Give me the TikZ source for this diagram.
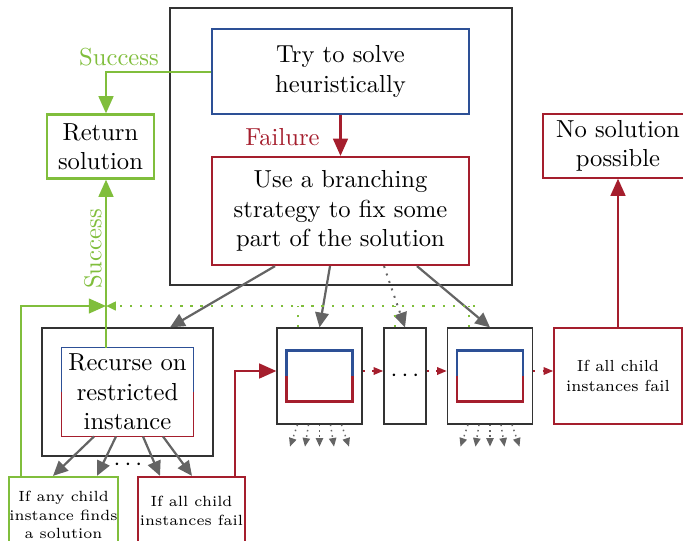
\documentclass[tikz,border=0pt]{standalone}
\usetikzlibrary{arrows.meta}
\definecolor{cgreen}{RGB}{128,190,60}
\definecolor{cred}{RGB}{165,30,45}
\definecolor{cblue}{RGB}{45,80,150}
\definecolor{cgray}{RGB}{100,100,100}
\newcommand\pu{0.4065pt}
\begin{document}
\begin{tikzpicture}[x=0.4065pt,y=-0.4065pt,
  outerbox/.style={draw=black!80,line width=0.5pt,inner sep=0pt},
  bluebox/.style={draw=cblue,line width=0.9pt,align=center,inner sep=0pt},
  redbox/.style={draw=cred,line width=0.9pt,align=center,inner sep=0pt},
  thinred/.style={draw=cred,line width=0.5pt,align=center,inner sep=0pt},
  greenbox/.style={draw=cgreen,line width=0.9pt,align=center,inner sep=0pt},
  plainbox/.style={align=center,inner sep=0pt},
  smalltxt/.style={font=\fontsize{6}{7.6}\selectfont},
  midtxt/.style={font=\fontsize{6.5}{8.1}\selectfont},
  garrow/.style={draw=cgray,line width=0.9pt,-{Triangle[length=6pt,width=5.5pt]}},
  gdot/.style={draw=cgray,line width=0.8pt,dash pattern=on 0.8pt off 2.4pt,-{Triangle[length=6pt,width=5.5pt]}},
  gsmall/.style={draw=cgray,line width=0.6pt,dash pattern=on 0.6pt off 1.6pt,-{Triangle[length=3.5pt,width=3pt]}},
  rarrow/.style={draw=cred,line width=0.9pt,-{Triangle[length=7pt,width=6pt]}},
  rdot/.style={draw=cred,line width=0.9pt,dash pattern=on 0.9pt off 3pt,-{Triangle[length=4pt,width=3pt]}},
  grarrow/.style={draw=cgreen,line width=0.9pt,-{Triangle[length=7pt,width=6pt]}},
  grdot/.style={draw=cgreen,line width=0.9pt,dash pattern=on 0.9pt off 3.2pt},
  lbl/.style={inner sep=0pt}
]
\useasboundingbox (0,0) rectangle (683,540);

% top group
\node[outerbox,minimum width=342*\pu,minimum height=277*\pu] (outer) at (341,146.5) {};
\node[bluebox,minimum width=257*\pu,minimum height=85*\pu] (try) at (340.5,71.5) {Try to solve\\heuristically};
\node[redbox,minimum width=257*\pu,minimum height=108*\pu] (branch) at (340.5,211) {Use a branching\\strategy to fix some\\part of the solution};
\draw[rarrow] (try.south) -- (branch.north);
\node[lbl,text=cred] (fail) at (282.5,137) {Failure};

% return solution
\node[greenbox,minimum width=107*\pu,minimum height=64*\pu] (ret) at (100.5,146.5) {Return\\solution};
\coordinate (gj) at (106,306);
\draw[grarrow] (try.west |- 0,72) -| (ret.north -| gj);
\node[lbl,text=cgreen] (succ1) at (119,57) {Success};

% no solution
\node[thinred,minimum width=150*\pu,minimum height=64*\pu] (nosol) at (618,146) {No solution\\possible};

% recurse box
\node[outerbox,minimum width=171*\pu,minimum height=128*\pu] (recout) at (127.5,392) {};
\node[plainbox,minimum width=131*\pu,minimum height=88*\pu] (rec) at (127.5,392) {Recurse on\\restricted\\instance};
\draw[cblue,line width=0.5pt] (rec.west) |- (rec.north east) -- (rec.east);
\draw[cred,line width=0.5pt] (rec.west) |- (rec.south east) -- (rec.east);

% success vertical
\draw[grarrow] (rec.north -| gj) -- (ret.south -| gj);
\node[lbl,text=cgreen,rotate=90] (succ2) at (93,249) {Success};

% bottom boxes
\node[greenbox,smalltxt,minimum width=107*\pu,minimum height=76*\pu] (anyc) at (63.5,515) {If any child\\instance finds\\a solution};
\node[redbox,smalltxt,minimum width=107*\pu,minimum height=68*\pu] (allc) at (191.5,511) {If all child\\instances fail};

\draw[garrow] (rec.south -| 94,0) -- (anyc.north -| 53,0);
\draw[garrow] (rec.south -| 116,0) -- (anyc.north -| 97,0);
\draw[garrow] (rec.south -| 143,0) -- (allc.north -| 160,0);
\draw[garrow] (rec.south -| 163,0) -- (allc.north -| 192,0);
\node[lbl] (rdots) at (128,465) {$\cdots$};

% children
\node[outerbox,minimum width=85*\pu,minimum height=96*\pu] (c1) at (319.5,376) {};
\node[plainbox,minimum width=65*\pu,minimum height=50*\pu] (c1i) at (319.5,376) {};
\draw[cblue,line width=0.9pt] (c1i.west) |- (c1i.north east) -- (c1i.east);
\draw[cred,line width=0.9pt] (c1i.west) |- (c1i.south east) -- (c1i.east);
\node[outerbox,minimum width=42*\pu,minimum height=96*\pu] (cd) at (405,376) {$\cdots$};
\node[outerbox,minimum width=85*\pu,minimum height=96*\pu] (c3) at (490,376) {};
\node[plainbox,minimum width=65*\pu,minimum height=50*\pu] (c3i) at (490,376) {};
\draw[cblue,line width=0.9pt] (c3i.west) |- (c3i.north east) -- (c3i.east);
\draw[cred,line width=0.9pt] (c3i.west) |- (c3i.south east) -- (c3i.east);

\node[thinred,midtxt,minimum width=128*\pu,minimum height=96*\pu] (allr) at (618,376) {If all child\\instances fail};
\draw[rarrow] (allr.north) -- (nosol.south);

% gray arrows from branch
\draw[garrow] (branch.south -| 275,0) -- (recout.north -| 170,0);
\draw[garrow] (branch.south -| 330,0) -- (c1.north);
\draw[gdot] (branch.south -| 384,0) -- (cd.north);
\draw[garrow] (branch.south -| 417,0) -- (c3.north);

% red connections
\coordinate (ry) at (0,371);
\draw[rarrow] (allc.north -| 235,0) |- (c1.west |- ry);
\draw[rdot] (c1.east |- ry) -- (cd.west |- ry);
\draw[rdot] (cd.east |- ry) -- (c3.west |- ry);
\draw[rdot] (c3.east |- ry) -- (allr.west |- ry);

% green success from left
\draw[grarrow] (anyc.north -| 21,0) |- (gj);
\draw[grdot] (c1.north -| 298,0) -- (298,306);
\draw[grdot] (cd.north -| 395,0) -- (395,306);
\draw[grdot] (c3.north -| 469,0) -- (469,306);
\draw[grdot,-{Triangle[length=4pt,width=3.5pt]}] (475,306) -- (gj);

% small child arrows
\foreach \s/\e in {-22/-29.5,-11/-14.5,0/0,11/14.5,22/29.5}{
  \draw[gsmall] ([xshift=\s*\pu]c1.south) -- ([xshift=\e*\pu,yshift=-22*\pu]c1.south);
  \draw[gsmall] ([xshift=\s*\pu]c3.south) -- ([xshift=\e*\pu,yshift=-22*\pu]c3.south);
}
\end{tikzpicture}
\end{document}
